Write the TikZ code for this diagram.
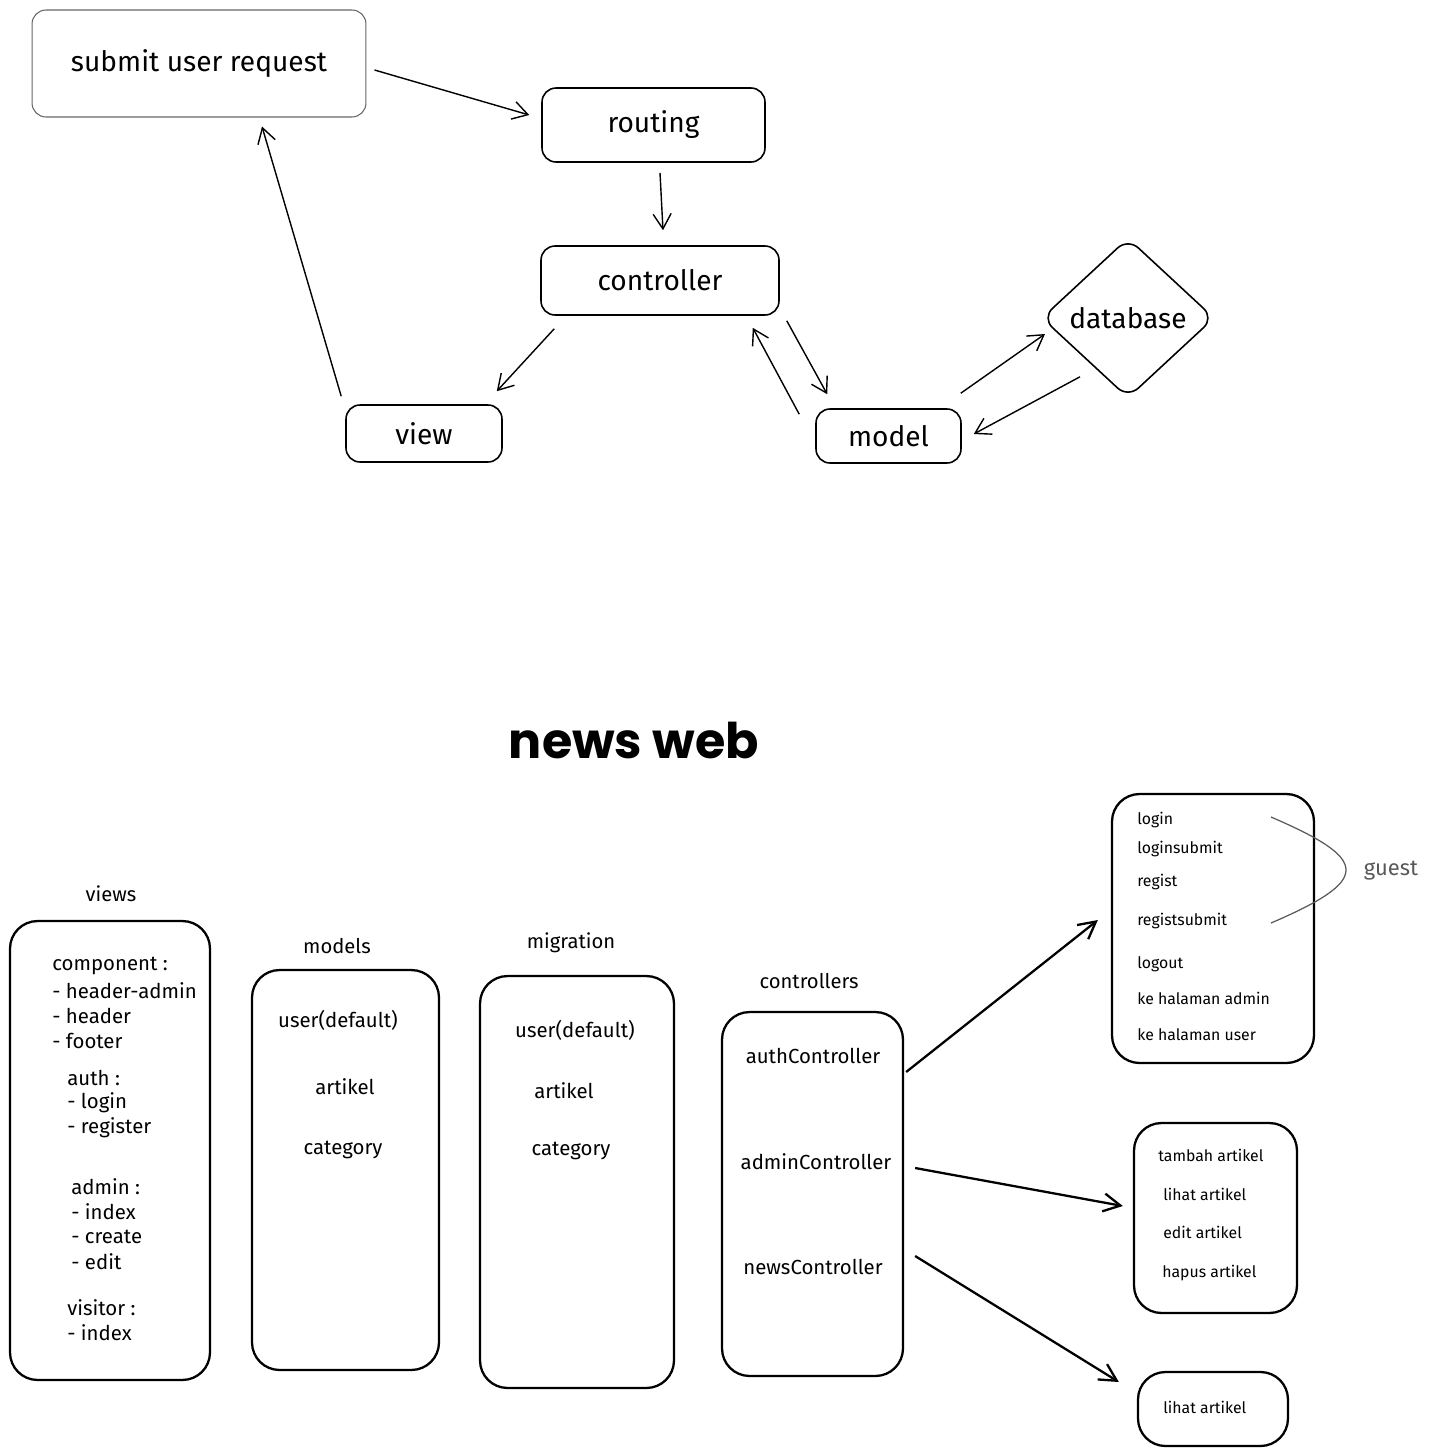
\documentclass[tikz,border=0pt]{standalone}
\usepackage{fontspec}
\setmainfont{Fira Sans}
\newfontfamily\titlefont{Poppins}
\usetikzlibrary{arrows.meta,shapes.geometric}

\begin{document}
\begin{tikzpicture}[x=0.02cm,y=-0.02cm,
  topbox/.style={draw, line width=0.9pt, rounded corners=0.28cm, inner sep=0pt, font=\fontsize{16}{18}\selectfont},
  colbox/.style={draw, line width=1.3pt, rounded corners=0.55cm, inner sep=0pt},
  flowarrow/.style={-{Straight Barb[length=0.3cm,width=0.36cm]}, line width=0.8pt},
  linkarrow/.style={-{Straight Barb[length=0.34cm,width=0.36cm]}, line width=1.3pt},
  itemtext/.style={font=\fontsize{11.6}{14}\selectfont, inner sep=0pt},
  routetext/.style={font=\fontsize{9}{11}\selectfont, inner sep=0pt, anchor=west},
  headlabel/.style={font=\fontsize{11.5}{13}\selectfont, inner sep=0pt}]

  \useasboundingbox (0,0) rectangle (1429,1455);

  % request cycle
  \node[topbox, draw=black!60, line width=0.6pt, minimum width=6.68cm, minimum height=2.14cm] (sub) at (199,63.5) {submit user request};
  \node[topbox, minimum width=4.46cm, minimum height=1.48cm] (rout) at (653.5,125) {routing};
  \node[topbox, minimum width=4.76cm, minimum height=1.38cm] (ctrl) at (660,280.5) {controller};
  \node[topbox, minimum width=3.12cm, minimum height=1.14cm] (view) at (424,433.5) {view};
  \node[topbox, minimum width=2.9cm, minimum height=1.08cm] (model) at (888.5,436) {model};
  \node[topbox, diamond, minimum width=3.45cm, minimum height=3.2cm] (db) at (1128,318) {database};

  \draw[flowarrow] ([shift={(8,6.5)}]sub.east) -- ([shift={(-12,-10)}]rout.west);
  \draw[flowarrow] ([shift={(6.5,10)}]rout.south) -- ([shift={(3,-15)}]ctrl.north);
  \draw[flowarrow] ([shift={(14,13)}]ctrl.south west) -- ([shift={(-6,-13)}]view.north east);
  \draw[flowarrow] ([shift={(-4,-8)}]view.north west) -- ([shift={(63,9)}]sub.south);
  \draw[flowarrow] ([shift={(7,5)}]ctrl.south east) -- ([shift={(12,-14)}]model.north west);
  \draw[flowarrow] ([shift={(-16,6)}]model.north west) -- ([shift={(-27,12)}]ctrl.south east);
  \draw[flowarrow] ([shift={(-1,-15)}]model.north east) -- ([shift={(4,16)}]db.west);
  \draw[flowarrow] ([shift={(-48,-22)}]db.south) -- ([shift={(12,-2)}]model.east);

  % project structure
  \node[font=\titlefont\bfseries\fontsize{28}{32}\selectfont] (title) at (634,740) {news web};

  \node[headlabel] (lviews) at (111,894) {views};
  \node[headlabel] (lmodels) at (337,946) {models};
  \node[headlabel] (lmig) at (571,943) {migration};
  \node[headlabel] (lctrls) at (809,981) {controllers};

  \node[colbox, minimum width=4cm, minimum height=9.18cm] (views) at (110,1150.5) {};
  \node[colbox, minimum width=3.74cm, minimum height=8cm] (models) at (345.5,1170) {};
  \node[colbox, minimum width=3.88cm, minimum height=8.24cm] (mig) at (577,1182) {};
  \node[colbox, minimum width=3.62cm, minimum height=7.28cm] (ctrls) at (812.5,1194) {};
  \node[colbox, minimum width=4.04cm, minimum height=5.38cm] (auth) at (1213,928.5) {};
  \node[colbox, minimum width=3.26cm, minimum height=3.8cm] (admin) at (1215.5,1218) {};
  \node[colbox, minimum width=3cm, minimum height=1.48cm] (news) at (1213,1409) {};

  \foreach \x/\y/\t [count=\i] in {52/966/component :, 52/991/- header-admin, 52/1016/- header,
      52/1041/- footer, 67/1078/auth :, 67/1103/- login, 67/1128/- register, 71/1187/admin :,
      71/1212/- index, 71/1237/- create, 71/1262/- edit, 67/1308/visitor :, 67/1333/- index}
    \node[itemtext, anchor=west] (v\i) at (\x,\y) {\t};

  \node[itemtext] (m1) at (338,1020) {user(default)};
  \node[itemtext] (m2) at (345,1087) {artikel};
  \node[itemtext] (m3) at (343,1150) {category};

  \node[itemtext] (g1) at (575,1030) {user(default)};
  \node[itemtext] (g2) at (564,1091) {artikel};
  \node[itemtext] (g3) at (571,1151) {category};

  \node[itemtext] (c1) at (813,1056) {authController};
  \node[itemtext] (c2) at (816,1162) {adminController};
  \node[itemtext] (c3) at (813,1267) {newsController};

  \foreach \y/\t [count=\i] in {820/login, 849/loginsubmit, 882/regist, 921/registsubmit,
      964/logout, 998/ke halaman admin, 1035/ke halaman user}
    \node[routetext] (a\i) at (1137,\y) {\t};

  \node[routetext] (d1) at (1158,1155) {tambah artikel};
  \node[routetext] (d2) at (1163,1194) {lihat artikel};
  \node[routetext] (d3) at (1163,1232) {edit artikel};
  \node[routetext] (d4) at (1162,1273) {hapus artikel};

  \node[routetext] (n1) at (1163,1407) {lihat artikel};

  \coordinate (gtop) at (1271,817);
  \coordinate (gbot) at (1271,923);
  \draw[black!65, line width=0.7pt] (gtop) .. controls (1371,860) and (1371,880) .. (gbot);
  \node[black!65, font=\fontsize{12.5}{14}\selectfont] (guest) at (1391,871) {guest};

  \draw[linkarrow] ([shift={(2,-122)}]ctrls.east) -- ([shift={(-13,-8.5)}]auth.west);
  \draw[linkarrow] ([shift={(11,-26)}]ctrls.east) -- ([shift={(-10,-12)}]admin.west);
  \draw[linkarrow] ([shift={(11,62)}]ctrls.east) -- ([shift={(-18,-27)}]news.west);

\end{tikzpicture}
\end{document}
